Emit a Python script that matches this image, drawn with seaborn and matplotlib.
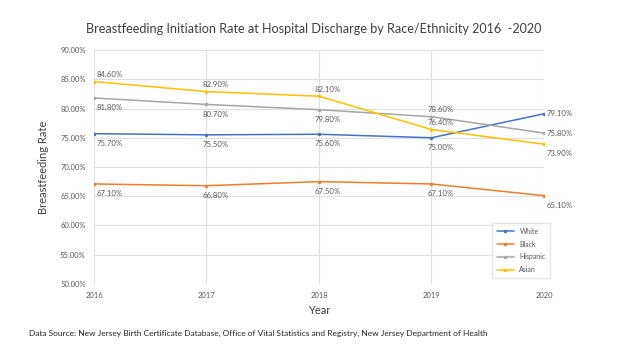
import matplotlib
matplotlib.use('Agg')
import matplotlib.pyplot as plt
import matplotlib.ticker as mticker
import pandas as pd
import seaborn as sns

years = [2016, 2017, 2018, 2019, 2020]
white = [75.7, 75.5, 75.6, 75.0, 79.1]
black = [67.1, 66.8, 67.5, 67.1, 65.1]
hispanic = [81.8, 80.7, 79.8, 78.6, 75.8]
asian = [84.6, 82.9, 82.1, 76.4, 73.9]

groups = ['White', 'Black', 'Hispanic', 'Asian']
colors = ['#4472C4', '#ED7D31', '#A5A5A5', '#FFC000']

# label offsets (points) per series, per year
offsets = {
    'White': [(2, -7), (-3, -7), (-3, -7), (-3, -7), (2, 0)],
    'Black': [(2, -7), (-3, -7), (-3, -7), (-3, -7), (2, -7)],
    'Hispanic': [(2, -7), (-3, -7), (-3, -7), (-3, 5), (2, 0)],
    'Asian': [(2, 5), (-3, 5), (-3, 5), (-3, 5), (2, -7)],
}

df = pd.DataFrame({'Year': years * 4,
                   'Rate': white + black + hispanic + asian,
                   'Group': [g for g in groups for _ in years]})

sns.set_style('white')
plt.rcParams['font.family'] = ['Lato', 'DejaVu Sans']

fig = plt.figure(figsize=(6.24, 3.51), dpi=100)
ax = fig.add_axes([0.1506, 0.1909, 0.7212, 0.6666])

sns.lineplot(data=df, x='Year', y='Rate', hue='Group', hue_order=groups,
             palette=colors, marker='o', markersize=2.5, markeredgewidth=0,
             linewidth=1.1, ax=ax)

for g in groups:
    sub = df[df['Group'] == g]
    for (yr, val), off in zip(zip(sub['Year'], sub['Rate']), offsets[g]):
        ax.annotate(f'{val:.2f}%', (yr, val), xytext=off, textcoords='offset points',
                    fontsize=5.6, color='#595959', va='center', ha='left')

ax.set_xlim(2016, 2020)
ax.set_ylim(50, 90)
ax.set_xticks(years)
ax.set_yticks(range(50, 91, 5))
ax.yaxis.set_major_formatter(mticker.FuncFormatter(lambda v, p: f'{v:.2f}%'))
ax.tick_params(axis='both', labelsize=5.5, colors='#595959', length=0, pad=6)
ax.grid(True, color='#E0E0E0', linewidth=0.8)
for s in ax.spines.values():
    s.set_visible(False)

ax.set_xlabel('Year', fontsize=8, color='#404040', labelpad=4)
ax.set_ylabel('Breastfeeding Rate', fontsize=8, color='#404040', labelpad=8)

leg = ax.legend(loc='lower right', bbox_to_anchor=(1.022, 0.01), fontsize=5,
                frameon=True, fancybox=False, edgecolor='#E0E0E0',
                handlelength=2.5, labelspacing=0.85, borderpad=0.7)
for t in leg.get_texts():
    t.set_color('#595959')

fig.text(0.503, 0.918, 'Breastfeeding Initiation Rate at Hospital Discharge by Race/Ethnicity 2016  -2020',
         ha='center', va='center', fontsize=9.1, color='#404040')
fig.text(0.046, 0.05, 'Data Source: New Jersey Birth Certificate Database, Office of Vital Statistics and Registry, New Jersey Department of Health',
         ha='left', va='center', fontsize=6, color='#262626')

fig.savefig('out.png', dpi=100)
